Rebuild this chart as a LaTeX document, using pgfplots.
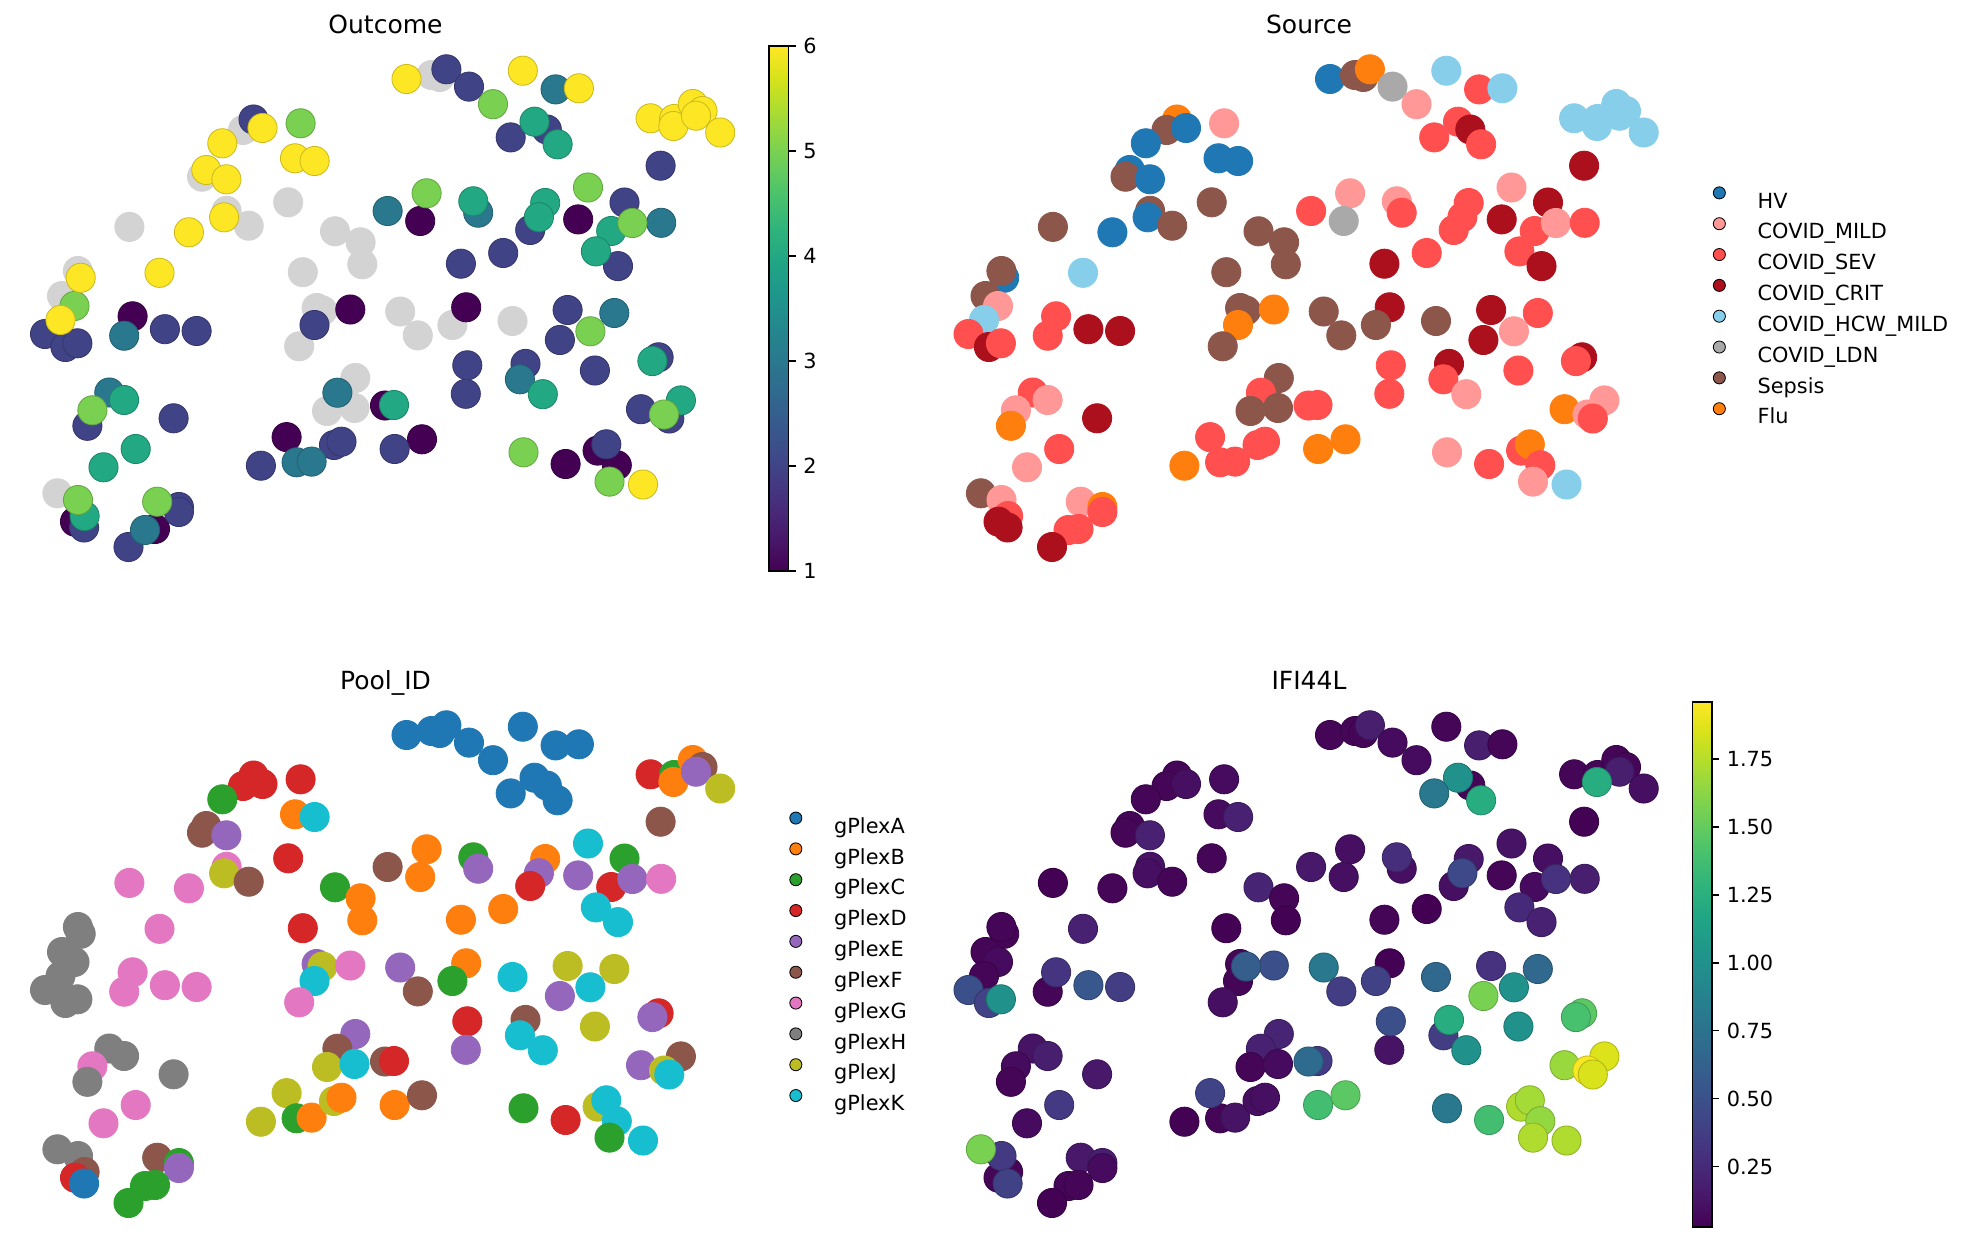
\documentclass[border=0pt]{standalone}
\usepackage{fontspec}
\setmainfont{DejaVu Sans}
\usepackage{pgfplots}
\usepackage{pgfplotstable}
\pgfplotsset{compat=1.18}

% Source palette
\definecolor{cHV}{HTML}{1F77B4}
\definecolor{cMILD}{HTML}{FF9896}
\definecolor{cSEV}{HTML}{FF4F4F}
\definecolor{cCRIT}{HTML}{AB101C}
\definecolor{cHCW}{HTML}{87CEEB}
\definecolor{cLDN}{HTML}{A9A9A9}
\definecolor{cSEP}{HTML}{8C564B}
\definecolor{cFLU}{HTML}{FF7F0E}
% Pool palette (tab10)
\definecolor{pA}{HTML}{1F77B4}
\definecolor{pB}{HTML}{FF7F0E}
\definecolor{pC}{HTML}{2CA02C}
\definecolor{pD}{HTML}{D62728}
\definecolor{pE}{HTML}{9467BD}
\definecolor{pF}{HTML}{8C564B}
\definecolor{pG}{HTML}{E377C2}
\definecolor{pH}{HTML}{7F7F7F}
\definecolor{pJ}{HTML}{BCBD22}
\definecolor{pK}{HTML}{17BECF}
\definecolor{nanGray}{HTML}{D3D3D3}

% UMAP embedding: x, y, outcome (0 = not recorded), source, pool, IFI44L
\pgfplotstableread{
x y out src pool ifi
253.5 119.5 2 FLU D 0.05
243.0 130.0 0 SEP D 0.05
262.5 128.0 6 HV D 0.10
300.6 123.3 5 MILD D 0.08
222.3 143.3 6 HV C 0.05
295.0 158.3 6 HV B 0.08
314.6 161.0 6 HV K 0.20
206.3 170.0 6 HV F 0.05
202.0 176.7 0 SEP F 0.05
226.4 179.3 6 HV E 0.20
288.2 202.3 0 SEP D 0.05
226.6 210.8 0 SEP G 0.12
224.1 217.3 6 HV J 0.10
248.7 225.7 0 SEP F 0.05
129.4 226.9 0 SEP G 0.03
188.9 232.3 6 HV G 0.05
335.0 231.3 0 SEP C 0.22
360.6 242.3 0 SEP B 0.05
362.3 264.3 0 SEP B 0.03
302.8 272.2 0 SEP D 0.03
159.5 272.8 6 HCW G 0.20
80.7 277.8 6 HV H 0.05
77.9 271.0 0 SEP H 0.05
62.0 296.0 0 SEP H 0.05
74.5 306.0 5 MILD H 0.08
60.5 320.0 6 HCW H 0.05
45.0 334.0 2 SEV H 0.50
65.4 347.0 2 CRIT H 0.41
77.4 343.3 2 SEV H 1.00
132.6 316.3 1 SEV G 0.32
124.2 335.7 3 SEV G 0.05
164.9 329.2 2 CRIT G 0.55
196.6 331.0 2 CRIT G 0.37
316.6 308.0 0 SEP E 0.05
322.5 310.5 0 SEP J 0.60
350.3 309.5 1 FLU G 0.50
314.5 325.0 2 FLU K 0.05
299.2 346.3 0 SEP G 0.10
387.6 211.0 3 SEV F 0.15
355.3 378.0 0 SEP E 0.22
337.4 392.7 3 SEV F 0.20
327.0 411.0 0 SEP J 0.05
354.5 408.0 0 SEP K 0.08
385.0 405.5 1 SEV F 0.70
394.0 405.0 4 SEV D 0.36
109.3 392.5 3 SEV H 0.12
124.1 400.0 4 MILD H 0.18
92.4 410.3 5 MILD G 0.08
87.4 425.8 2 FLU H 0.05
173.6 418.3 2 CRIT H 0.15
135.7 449.0 4 SEV G 0.35
103.5 467.3 4 MILD G 0.08
57.4 493.3 0 SEP H 1.57
78.0 500.0 5 MILD H 0.35
84.6 516.0 4 SEV F 0.05
75.0 521.7 1 CRIT D 0.05
84.1 527.5 2 CRIT A 0.40
157.2 501.7 5 MILD F 0.15
178.9 507.0 2 FLU C 0.18
178.9 512.0 2 SEV E 0.08
145.0 530.0 3 SEV C 0.05
155.0 529.0 1 SEV C 0.05
128.5 547.0 2 CRIT C 0.03
260.9 465.7 2 FLU J 0.03
286.6 437.1 1 SEV J 0.42
296.6 462.3 3 SEV C 0.05
311.6 461.6 3 SEV B 0.12
334.0 445.0 2 SEV J 0.10
341.5 441.7 2 SEV B 0.10
394.6 449.0 2 FLU B 1.38
422.0 439.3 1 FLU F 1.47
406.5 79.0 6 HV A 0.05
431.5 75.0 0 SEP A 0.05
439.8 77.0 0 SEP A 0.05
446.4 69.3 2 FLU A 0.18
469.0 86.6 2 LDN A 0.08
493.0 104.2 5 MILD A 0.08
522.8 70.7 6 HCW A 0.05
555.6 89.4 3 SEV A 0.18
578.9 88.3 6 HCW A 0.05
534.5 121.7 4 SEV A 1.00
546.8 129.5 2 CRIT A 0.05
510.7 137.4 2 SEV A 0.80
557.6 144.3 4 SEV A 1.23
650.6 118.3 6 HCW D 0.05
674.0 119.0 6 HCW C 0.05
673.4 126.0 6 HCW B 1.23
692.8 104.0 6 HCW B 0.05
702.5 111.0 6 HCW F 0.05
696.0 115.7 6 HCW E 0.18
720.2 132.5 6 HCW J 0.10
660.6 165.7 2 CRIT F 0.03
426.6 193.3 5 MILD B 0.10
420.2 221.0 1 LDN B 0.10
473.3 201.3 4 MILD C 0.28
478.2 212.7 3 SEV E 0.10
545.2 203.0 4 SEV B 0.15
538.9 217.2 4 SEV E 0.45
530.2 230.0 2 SEV D 0.10
588.0 187.5 5 MILD K 0.12
624.5 202.5 2 CRIT C 0.10
578.2 219.4 1 CRIT E 0.05
611.2 231.0 4 SEV D 0.08
632.4 223.0 5 MILD E 0.30
661.2 222.8 3 SEV G 0.18
595.9 251.4 4 SEV K 0.25
618.0 266.1 2 CRIT K 0.20
460.9 263.7 2 CRIT B 0.05
503.2 253.0 2 SEV B 0.02
400.2 311.5 0 SEP E 0.80
417.8 335.4 0 SEP F 0.37
466.2 307.3 1 CRIT B 0.03
452.4 325.0 0 SEP C 0.40
512.5 321.0 0 SEP K 0.67
567.6 310.0 2 CRIT J 0.30
614.3 313.0 3 SEV J 0.67
590.4 331.3 5 MILD K 1.00
559.9 340.0 2 CRIT E 1.57
467.3 365.3 2 SEV D 0.50
465.8 393.8 2 SEV E 0.12
525.5 363.9 2 CRIT F 1.23
519.9 379.3 3 SEV K 0.37
542.8 394.2 4 MILD K 1.00
594.9 370.5 2 SEV J 1.00
658.6 357.3 2 CRIT D 1.47
652.4 361.1 4 SEV E 1.40
641.0 409.2 2 FLU E 1.67
680.9 400.4 4 MILD F 1.86
664.0 414.5 5 MILD J 1.95
669.3 418.5 2 SEV K 1.85
523.5 452.3 5 MILD C 0.80
565.6 464.0 1 SEV D 1.38
597.6 450.6 1 SEV J 1.73
606.3 444.3 2 FLU K 1.70
616.8 465.2 1 SEV K 1.65
609.5 481.6 5 MILD C 1.73
643.0 484.5 6 HCW K 1.73
}\pts

\pgfplotsset{
  panel/.style={
    scale only axis, width=340.32pt, height=252pt,
    xmin=31, xmax=740, ymin=46, ymax=571, y dir=reverse,
    hide axis, clip=false, anchor=north west,
    title style={at={(0.5,1)}, anchor=base, inner sep=0pt,
      font=\fontsize{12}{14}\selectfont},
  },
  umapdot/.style={only marks, mark=*, mark size=7pt},
  cbar/.style={
    colorbar, colormap/viridis,
    colorbar style={
      at={(parent axis.north east)}, anchor=north west, xshift=5.4pt,
      scale only axis, width=9.4pt, height=252pt,
      ytick pos=right, yticklabel pos=right, tick align=outside,
      major tick length=3.5pt,
      axis line style={line width=0.8pt, black},
      tick style={line width=0.8pt, black},
      yticklabel style={font=\fontsize{10}{12}\selectfont},
      /pgf/number format/assume math mode=true,
    },
  },
  catlegend/.style={
    legend cell align=left,
    legend image code/.code={\path (-2.9pt,0pt) (18.2pt,0pt);
      \fill[##1] (0pt,3.65pt) circle (2.9pt);},
    legend style={at={(1,0.5)}, anchor=west, xshift=23.5pt, yshift=1.6pt,
      draw=none, fill=none, inner sep=0pt, row sep=4.4pt, column sep=0pt,
      font=\fontsize{10}{12}\selectfont,
      nodes={inner sep=0pt, text height=7.3pt, text depth=0pt}},
  },
}

\begin{document}
\begin{tikzpicture}
\path[use as bounding box] (0pt,0pt) rectangle (944.64pt,-596.16pt);

% Outcome
\begin{axis}[panel, at={(14.88pt,-22.08pt)}, title={Outcome}, cbar,
  point meta min=1, point meta max=6,
  colorbar style={ytick={1,2,3,4,5,6}}]
\addplot[umapdot, color=nanGray, restrict expr to domain={\thisrow{out}}{-0.5:0.5}]
  table[x=x, y=y]{\pts};
\addplot[umapdot, scatter, point meta=explicit, restrict expr to domain={\thisrow{out}}{0.5:1.5}]
  table[x=x, y=y, meta=out]{\pts};
\addplot[umapdot, scatter, point meta=explicit, restrict expr to domain={\thisrow{out}}{1.5:2.5}]
  table[x=x, y=y, meta=out]{\pts};
\addplot[umapdot, scatter, point meta=explicit, restrict expr to domain={\thisrow{out}}{2.5:3.5}]
  table[x=x, y=y, meta=out]{\pts};
\addplot[umapdot, scatter, point meta=explicit, restrict expr to domain={\thisrow{out}}{3.5:4.5}]
  table[x=x, y=y, meta=out]{\pts};
\addplot[umapdot, scatter, point meta=explicit, restrict expr to domain={\thisrow{out}}{4.5:5.5}]
  table[x=x, y=y, meta=out]{\pts};
\addplot[umapdot, scatter, point meta=explicit, restrict expr to domain={\thisrow{out}}{5.5:6.5}]
  table[x=x, y=y, meta=out]{\pts};
\end{axis}

% Source
\begin{axis}[panel, at={(458.16pt,-22.08pt)}, title={Source}, catlegend]
\addplot[umapdot, scatter, forget plot, point meta=explicit symbolic,
  scatter/classes={
    HV={fill=cHV,draw=cHV}, MILD={fill=cMILD,draw=cMILD},
    SEV={fill=cSEV,draw=cSEV}, CRIT={fill=cCRIT,draw=cCRIT},
    HCW={fill=cHCW,draw=cHCW}, LDN={fill=cLDN,draw=cLDN},
    SEP={fill=cSEP,draw=cSEP}, FLU={fill=cFLU,draw=cFLU}}]
  table[x=x, y=y, meta=src]{\pts};
\addlegendimage{fill=cHV}\addlegendentry{HV}
\addlegendimage{fill=cMILD}\addlegendentry{COVID\_MILD}
\addlegendimage{fill=cSEV}\addlegendentry{COVID\_SEV}
\addlegendimage{fill=cCRIT}\addlegendentry{COVID\_CRIT}
\addlegendimage{fill=cHCW}\addlegendentry{COVID\_HCW\_MILD}
\addlegendimage{fill=cLDN}\addlegendentry{COVID\_LDN}
\addlegendimage{fill=cSEP}\addlegendentry{Sepsis}
\addlegendimage{fill=cFLU}\addlegendentry{Flu}
\end{axis}

% Pool_ID
\begin{axis}[panel, at={(14.88pt,-336.96pt)}, title={Pool\_ID}, catlegend]
\addplot[umapdot, scatter, forget plot, point meta=explicit symbolic,
  scatter/classes={
    A={fill=pA,draw=pA}, B={fill=pB,draw=pB}, C={fill=pC,draw=pC},
    D={fill=pD,draw=pD}, E={fill=pE,draw=pE}, F={fill=pF,draw=pF},
    G={fill=pG,draw=pG}, H={fill=pH,draw=pH}, J={fill=pJ,draw=pJ},
    K={fill=pK,draw=pK}}]
  table[x=x, y=y, meta=pool]{\pts};
\addlegendimage{fill=pA}\addlegendentry{gPlexA}
\addlegendimage{fill=pB}\addlegendentry{gPlexB}
\addlegendimage{fill=pC}\addlegendentry{gPlexC}
\addlegendimage{fill=pD}\addlegendentry{gPlexD}
\addlegendimage{fill=pE}\addlegendentry{gPlexE}
\addlegendimage{fill=pF}\addlegendentry{gPlexF}
\addlegendimage{fill=pG}\addlegendentry{gPlexG}
\addlegendimage{fill=pH}\addlegendentry{gPlexH}
\addlegendimage{fill=pJ}\addlegendentry{gPlexJ}
\addlegendimage{fill=pK}\addlegendentry{gPlexK}
\end{axis}

% IFI44L expression, higher values drawn on top
\begin{axis}[panel, at={(458.16pt,-336.96pt)}, title={IFI44L}, cbar,
  point meta min=0.027, point meta max=1.96,
  colorbar style={ytick={0.25,0.5,0.75,1,1.25,1.5,1.75},
    /pgf/number format/fixed, /pgf/number format/fixed zerofill,
    /pgf/number format/precision=2}]
\addplot[umapdot, scatter, point meta=explicit, restrict expr to domain={\thisrow{ifi}}{0:0.25}]
  table[x=x, y=y, meta=ifi]{\pts};
\addplot[umapdot, scatter, point meta=explicit, restrict expr to domain={\thisrow{ifi}}{0.2501:0.5}]
  table[x=x, y=y, meta=ifi]{\pts};
\addplot[umapdot, scatter, point meta=explicit, restrict expr to domain={\thisrow{ifi}}{0.5001:0.75}]
  table[x=x, y=y, meta=ifi]{\pts};
\addplot[umapdot, scatter, point meta=explicit, restrict expr to domain={\thisrow{ifi}}{0.7501:1}]
  table[x=x, y=y, meta=ifi]{\pts};
\addplot[umapdot, scatter, point meta=explicit, restrict expr to domain={\thisrow{ifi}}{1.0001:1.25}]
  table[x=x, y=y, meta=ifi]{\pts};
\addplot[umapdot, scatter, point meta=explicit, restrict expr to domain={\thisrow{ifi}}{1.2501:1.5}]
  table[x=x, y=y, meta=ifi]{\pts};
\addplot[umapdot, scatter, point meta=explicit, restrict expr to domain={\thisrow{ifi}}{1.5001:1.75}]
  table[x=x, y=y, meta=ifi]{\pts};
\addplot[umapdot, scatter, point meta=explicit, restrict expr to domain={\thisrow{ifi}}{1.7501:2}]
  table[x=x, y=y, meta=ifi]{\pts};
\end{axis}
\end{tikzpicture}
\end{document}
